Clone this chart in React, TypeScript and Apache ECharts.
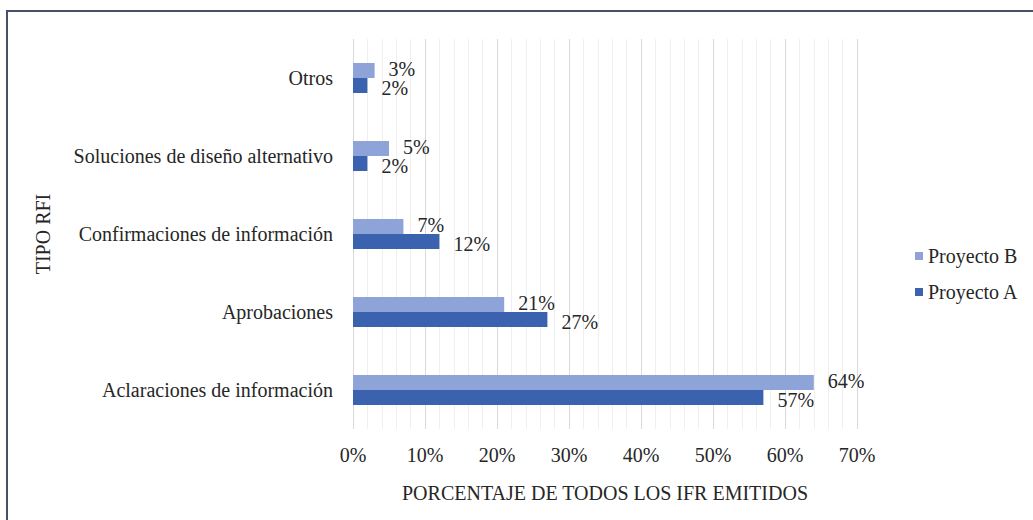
import React, { useEffect, useRef } from "react";
import * as echarts from "echarts";

const categories = [
  "Aclaraciones de información",
  "Aprobaciones",
  "Confirmaciones de información",
  "Soluciones de diseño alternativo",
  "Otros",
];
const proyectoA = [57, 27, 12, 2, 2];
const proyectoB = [64, 21, 7, 5, 3];
const xTicks = [0, 10, 20, 30, 40, 50, 60, 70];

const FONT = "'Liberation Serif', 'Times New Roman', serif";
const FS = 20;

export default function App() {
  const ref = useRef<HTMLDivElement>(null);
  useEffect(() => {
    if (!ref.current) return;
    const chart = echarts.init(ref.current, null, { renderer: "svg" });
    const labelStyle = (dy: number) => ({
      show: true,
      position: "right",
      distance: 14,
      offset: [0, dy],
      formatter: "{c}%",
      fontFamily: FONT,
      fontSize: FS,
      lineHeight: 18,
      color: "#262626",
    });
    chart.setOption({
      animation: false,
      backgroundColor: "#ffffff",
      textStyle: { fontFamily: FONT },
      graphic: [
        {
          type: "rect",
          shape: { x: 7, y: 11, width: 2000, height: 1000 },
          style: { fill: "none", stroke: "#46506a", lineWidth: 2 },
          silent: true,
        },
      ],
      grid: { left: 353, right: 176, top: 39, bottom: 91, containLabel: false },
      legend: {
        orient: "vertical",
        left: 910,
        top: 241,
        itemWidth: 8,
        itemHeight: 8,
        itemGap: 16,
        icon: "rect",
        data: ["Proyecto B", "Proyecto A"],
        textStyle: { fontFamily: FONT, fontSize: FS, color: "#262626" },
      },
      xAxis: {
        type: "value",
        min: xTicks[0],
        max: xTicks[xTicks.length - 1],
        interval: 10,
        axisLine: { show: false },
        axisTick: { show: false },
        axisLabel: {
          formatter: "{value}%",
          margin: 16,
          fontFamily: FONT,
          fontSize: FS,
          color: "#262626",
        },
        splitLine: { show: true, lineStyle: { color: "#d9d9d9", width: 1 } },
        minorTick: { show: false, splitNumber: 5 },
        minorSplitLine: { show: true, lineStyle: { color: "#efefef", width: 1 } },
        name: "PORCENTAJE DE TODOS LOS IFR EMITIDOS",
        nameLocation: "middle",
        nameGap: 54,
        nameTextStyle: { fontFamily: FONT, fontSize: FS, color: "#262626", verticalAlign: "top" },
      },
      yAxis: {
        type: "category",
        data: categories,
        axisLine: { show: false },
        axisTick: { show: false },
        axisLabel: { margin: 20, fontFamily: FONT, fontSize: FS, color: "#262626" },
        splitLine: { show: false },
        name: "TIPO RFI",
        nameLocation: "middle",
        nameGap: 300,
        nameRotate: 90,
        nameTextStyle: { fontFamily: FONT, fontSize: FS, color: "#262626" },
      },
      series: [
        {
          name: "Proyecto B",
          type: "bar",
          data: proyectoB,
          barWidth: 15,
          barGap: "0%",
          itemStyle: { color: "#8ea3d8" },
          label: labelStyle(-2),
        },
        {
          name: "Proyecto A",
          type: "bar",
          data: proyectoA,
          barWidth: 15,
          barGap: "0%",
          itemStyle: { color: "#3b62ae" },
          label: labelStyle(2),
        },
      ],
    });
    return () => chart.dispose();
  }, []);
  return (
    <div
      ref={ref}
      style={{ position: "fixed", left: 0, top: 0, width: 1033, height: 520 }}
    />
  );
}
